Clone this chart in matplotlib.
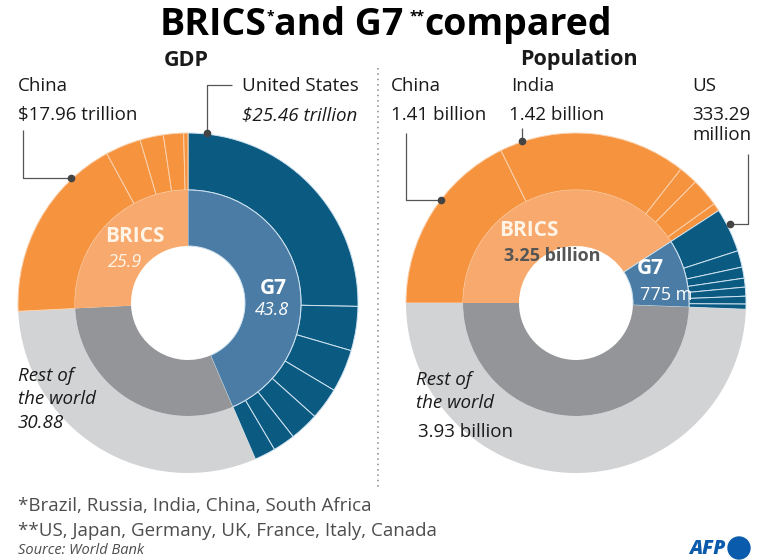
import matplotlib.pyplot as plt

plt.rcParams['font.family'] = ['Open Sans', 'DejaVu Sans']

# GDP, trillion dollars
gdp_g7_names = ['US', 'Japan', 'Germany', 'UK', 'France', 'Canada', 'Italy']
gdp_g7 = [25.46, 4.23, 4.07, 3.07, 2.78, 2.14, 2.01]
gdp_brics_names = ['China', 'India', 'Russia', 'Brazil', 'South Africa']
gdp_brics = [17.96, 3.39, 2.24, 1.92, 0.41]
gdp_rest = 30.88
gdp_group_names = ['G7', 'Rest of the world', 'BRICS']
gdp_groups = [43.8, 30.88, 25.9]

# population, billion
pop_brics_names = ['China', 'India', 'Russia', 'Brazil', 'South Africa']
pop_brics = [1.41, 1.42, 0.144, 0.215, 0.06]
pop_g7_names = ['US', 'Japan', 'Germany', 'UK', 'France', 'Italy', 'Canada']
pop_g7 = [0.333, 0.125, 0.084, 0.067, 0.068, 0.059, 0.039]
pop_rest = 3.93
pop_group_names = ['BRICS', 'G7', 'Rest of the world']
pop_groups = [3.25, 0.775, 3.93]

DARK_BLUE = '#0b5a82'
MID_BLUE = '#4a7ca5'
ORANGE = '#f5933f'
LIGHT_ORANGE = '#f8aa6e'
DARK_GRAY = '#939598'
LIGHT_GRAY = '#d2d3d5'
TXT = '#1a1a1a'
LEAD = '#555555'

H = 560


def Y(py):
    # pixel row (from top) -> data y
    return H - py


def ring(ax, values, colors, edges, center, r, width, start):
    wedges, _ = ax.pie(values, colors=colors, radius=r, center=center,
                       startangle=start, counterclock=False,
                       wedgeprops=dict(width=width, linewidth=0.7))
    for w, e in zip(wedges, edges):
        w.set_edgecolor(e)
    return wedges


def leader(ax, xs, ys, dot):
    ax.plot(xs, [Y(v) for v in ys], color=LEAD, lw=0.9, solid_capstyle='butt')
    ax.plot(dot[0], Y(dot[1]), 'o', color='#444444', ms=4.5)


fig = plt.figure(figsize=(7.68, 5.6), dpi=100)
ax = fig.add_axes([0, 0, 1, 1])

# ---- GDP donut
c1 = (188, Y(303))
outer = gdp_g7 + [gdp_rest] + gdp_brics
ocol = [DARK_BLUE] * len(gdp_g7) + [LIGHT_GRAY] + [ORANGE] * len(gdp_brics)
oedge = ['#cfe3f0'] * len(gdp_g7) + ['none'] + ['#fbd2ae'] * len(gdp_brics)
ring(ax, outer, ocol, oedge, c1, 170, 57, 90)
ring(ax, gdp_groups, [MID_BLUE, DARK_GRAY, LIGHT_ORANGE],
     ['#cfe3f0', 'none', 'none'], c1, 113, 56, 90)

# ---- population donut
c2 = (576, Y(303))
outer = pop_brics + pop_g7 + [pop_rest]
ocol = [ORANGE] * len(pop_brics) + [DARK_BLUE] * len(pop_g7) + [LIGHT_GRAY]
oedge = ['#fbd2ae'] * len(pop_brics) + ['#cfe3f0'] * len(pop_g7) + ['none']
ring(ax, outer, ocol, oedge, c2, 170, 57, 180)
ring(ax, pop_groups, [LIGHT_ORANGE, MID_BLUE, DARK_GRAY],
     ['none', '#cfe3f0', 'none'], c2, 113, 56, 180)

ax.set_xlim(0, 768)
ax.set_ylim(0, H)
ax.set_aspect('equal')
ax.axis('off')

# ---- title with superscript stars
tfs = 27
t1 = ax.text(160, Y(35), 'BRICS', fontsize=tfs, fontweight='bold',
             color='black', va='baseline')
t2 = ax.annotate('*', xy=(1, 0.92), xycoords=t1, fontsize=10,
                 fontweight='bold', va='top', ha='left')
t3 = ax.annotate('and G7', xy=(1, 0), xycoords=(t2, t1), fontsize=tfs,
                 fontweight='bold', va='bottom', ha='left')
t4 = ax.annotate('**', xy=(1, 0.92), xycoords=t3, xytext=(4, 0),
                 textcoords='offset points', fontsize=10,
                 fontweight='bold', va='top', ha='left')
ax.annotate('compared', xy=(1, 0), xycoords=(t4, t1), fontsize=tfs,
            fontweight='bold', va='bottom', ha='left')

ax.text(186, Y(60), 'GDP', fontsize=15.5, fontweight='bold', ha='center',
        va='center', color=TXT)
ax.text(579, Y(60), 'Population', fontsize=15.5, fontweight='bold',
        ha='center', va='center', color=TXT)

# divider
ax.plot([378, 378], [Y(68), Y(487)], color='#888888', lw=1.1,
        linestyle=(0, (1, 2.5)))

fs = 13.5

# ---- GDP labels
ax.text(18, Y(86), 'China', fontsize=fs, color=TXT, va='center')
ax.text(18, Y(115), '$17.96 trillion', fontsize=fs, color=TXT, va='center')
ax.text(242, Y(86), 'United States', fontsize=fs, color=TXT, va='center')
ax.text(242, Y(115), '$25.46 trillion', fontsize=fs, color=TXT,
        va='center', style='italic')
leader(ax, [23, 23, 71], [130, 178, 178], (71, 178))
leader(ax, [207, 207, 232], [133, 85, 85], (207, 133))

ax.text(135, Y(236), 'BRICS', fontsize=15, fontweight='bold',
        color='#fff4e6', ha='center', va='center')
ax.text(125, Y(262), '25.9', fontsize=13, style='italic', color='#fff4e6',
        ha='center', va='center')
ax.text(273, Y(289), 'G7', fontsize=15, fontweight='bold', color='white',
        ha='center', va='center')
ax.text(272, Y(310), '43.8', fontsize=13, style='italic', color='white',
        ha='center', va='center')

ax.text(18, Y(376), 'Rest of', fontsize=fs, style='italic', color=TXT,
        va='center')
ax.text(18, Y(399), 'the world', fontsize=fs, style='italic', color=TXT,
        va='center')
ax.text(18, Y(423), '30.88', fontsize=fs, style='italic', color=TXT,
        va='center')

# ---- population labels
ax.text(391, Y(86), 'China', fontsize=fs, color=TXT, va='center')
ax.text(391, Y(115), '1.41 billion', fontsize=fs, color=TXT, va='center')
ax.text(511, Y(86), 'India', fontsize=fs, color=TXT, va='center')
ax.text(509, Y(115), '1.42 billion', fontsize=fs, color=TXT, va='center')
ax.text(692, Y(86), 'US', fontsize=fs, color=TXT, va='center')
ax.text(692, Y(115), '333.29', fontsize=fs, color=TXT, va='center')
ax.text(692, Y(135), 'million', fontsize=fs, color=TXT, va='center')
leader(ax, [406, 406, 441], [133, 200, 200], (441, 200))
leader(ax, [522, 522], [128, 141], (522, 141))
leader(ax, [748, 748, 730], [154, 224, 224], (730, 224))

ax.text(529, Y(231), 'BRICS', fontsize=15, fontweight='bold',
        color='#fff4e6', ha='center', va='center')
ax.text(552, Y(256), '3.25 billion', fontsize=13, fontweight='bold',
        color='#555555', ha='center', va='center')
ax.text(650, Y(268), 'G7', fontsize=15, fontweight='bold', color='white',
        ha='center', va='center')
ax.text(666, Y(295), '775 m', fontsize=13, color='white', ha='center',
        va='center')

ax.text(416, Y(380), 'Rest of', fontsize=fs, style='italic', color=TXT,
        va='center')
ax.text(416, Y(403), 'the world', fontsize=fs, style='italic', color=TXT,
        va='center')
ax.text(418, Y(432), '3.93 billion', fontsize=fs, color=TXT, va='center')

# ---- footnotes
ax.text(18, Y(506), '*Brazil, Russia, India, China, South Africa',
        fontsize=13.5, color='#4d4d4d', va='center')
ax.text(18, Y(531), '**US, Japan, Germany, UK, France, Italy, Canada',
        fontsize=13.5, color='#4d4d4d', va='center')
ax.text(18, Y(551), 'Source: World Bank', fontsize=10.5, style='italic',
        color='#4d4d4d', va='center')

# AFP mark
ax.text(726, Y(549), 'AFP', fontsize=14, fontweight='heavy', style='italic',
        color='#0a5bab', ha='right', va='center')
ax.add_patch(plt.Circle((739, Y(548)), 11, color='#0a5bab'))

fig.savefig('out.png', dpi=100)
